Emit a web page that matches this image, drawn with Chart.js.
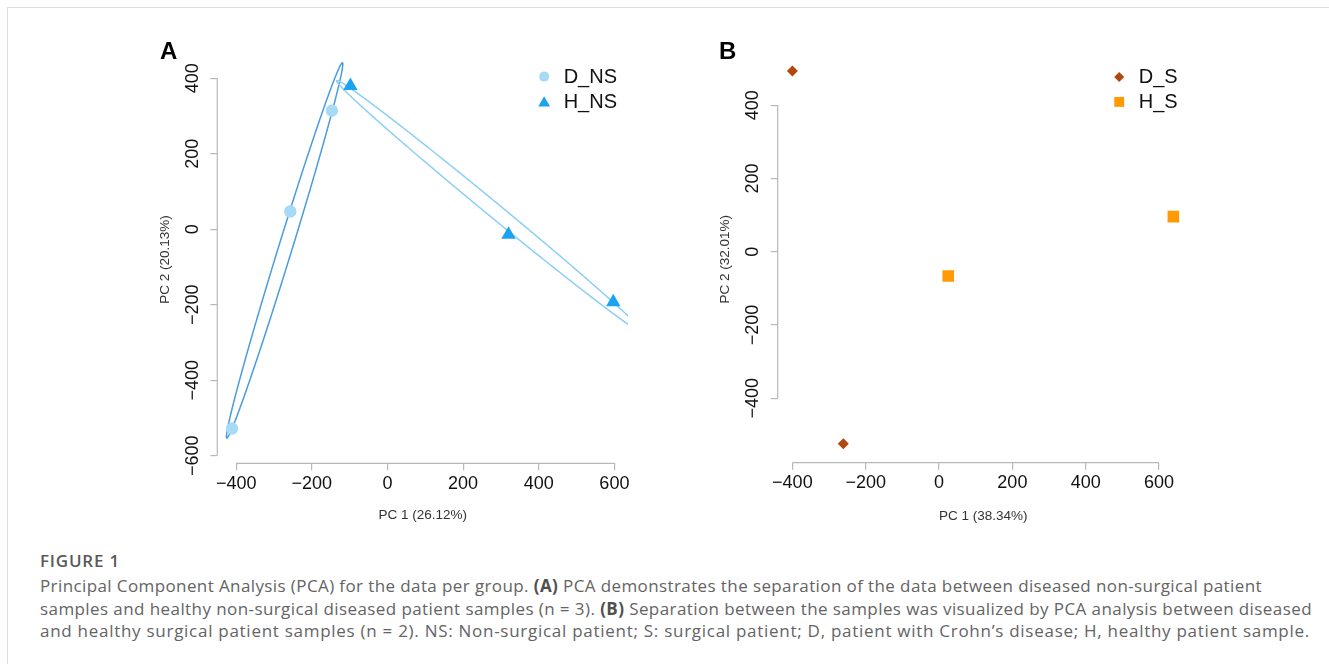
<!DOCTYPE html>
<html>
<head>
<meta charset="utf-8">
<script src="https://cdn.jsdelivr.net/npm/chart.js@4.4.1/dist/chart.umd.min.js"></script>
<style>
  body { margin: 0; background: #fff; width: 1329px; height: 664px; overflow: hidden; position: relative; }
  #frame { position: absolute; left: 7px; top: 7px; right: 0; bottom: 0; border-top: 1px solid #dcdcdc; border-left: 1px solid #dcdcdc; }
  .panel { position: absolute; top: 20px; width: 520px; height: 520px; }
  #boxA { left: 140px; }
  #boxB { left: 700px; }
  .tag { position: absolute; font: bold 24px "Liberation Sans", Arial, sans-serif; line-height: 24px; color: #000; }
  .cap { position: absolute; left: 40px; display: inline-block; white-space: nowrap; font-family: "Open Sans", sans-serif; font-size: 17px; line-height: 22.5px; color: #646464; }
  .cap b { font-weight: 700; color: #4f4f4f; }
  .fig { font-weight: 600; color: #5a5a5a; }
</style>
</head>
<body>
<div id="frame"></div>
<div class="panel" id="boxA"><canvas id="pcaA" width="520" height="520"></canvas></div>
<div class="panel" id="boxB"><canvas id="pcaB" width="520" height="520"></canvas></div>
<div class="tag" style="left:160px;top:39px">A</div>
<div class="tag" style="left:719px;top:39px">B</div>

<div class="cap fig" style="top:550px" data-w="80">FIGURE 1</div>
<div class="cap" style="top:575px" data-w="1222">Principal Component Analysis (PCA) for the data per group. <b>(A)</b> PCA demonstrates the separation of the data between diseased non-surgical patient</div>
<div class="cap" style="top:597.5px" data-w="1272">samples and healthy non-surgical diseased patient samples (n = 3). <b>(B)</b> Separation between the samples was visualized by PCA analysis between diseased</div>
<div class="cap" style="top:620px" data-w="1270">and healthy surgical patient samples (n = 2). NS: Non-surgical patient; S: surgical patient; D, patient with Crohn’s disease; H, healthy patient sample.</div>

<script>
// Panel A: non-surgical samples
const ticksA_x = [-400, -200, 0, 200, 400, 600];
const ticksA_y = [-600, -400, -200, 0, 200, 400];
const dnsPC1 = [-411, -257, -147];
const dnsPC2 = [-528, 47, 314];
const hnsPC1 = [-98, 320, 597];
const hnsPC2 = [380, -14, -193];
// confidence ellipses: [centre PC1, centre PC2, semi-major, semi-minor, angle deg]
const dnsEllipse = [-272, -56, 520, 18, 72.9];
const hnsEllipse = [273, 58, 528, 19, -39.5];

// Panel B: surgical samples
const ticksB_x = [-400, -200, 0, 200, 400, 600];
const ticksB_y = [-400, -200, 0, 200, 400];
const dsPC1 = [-400, -261];
const dsPC2 = [494, -524];
const hsPC1 = [25, 639];
const hsPC2 = [-66, 96];

const AXIS_FONT = '"Liberation Sans", Arial, Helvetica, sans-serif';
const AXIS_GREY = '#b8b8b8';

function fmt(v) {
    return v < 0 ? '\u2212' + Math.abs(v) : String(v);
}

function toPoints(xs, ys) {
    return xs.map((x, i) => ({ x: x, y: ys[i] }));
}

// ellipse outlines, mapped through the chart scales and clipped to the plot region
const ellipsePlugin = {
    id: 'ellipses',
    beforeDatasetsDraw(chart, args, opts) {
        const { ctx, chartArea: a } = chart;
        const sx = chart.scales.x, sy = chart.scales.y;
        (opts.list || []).forEach(e => {
            const [cx, cy, ra, rb, deg] = e.params;
            const t = deg * Math.PI / 180;
            ctx.save();
            ctx.beginPath();
            ctx.rect(a.left, a.top, a.right - a.left, a.bottom - a.top);
            ctx.clip();
            ctx.beginPath();
            for (let i = 0; i <= 720; i++) {
                const u = i * Math.PI / 360;
                const px = cx + ra * Math.cos(u) * Math.cos(t) - rb * Math.sin(u) * Math.sin(t);
                const py = cy + ra * Math.cos(u) * Math.sin(t) + rb * Math.sin(u) * Math.cos(t);
                const X = sx.getPixelForValue(px), Y = sy.getPixelForValue(py);
                if (i === 0) ctx.moveTo(X, Y); else ctx.lineTo(X, Y);
            }
            ctx.strokeStyle = e.color;
            ctx.lineWidth = 1.5;
            ctx.stroke();
            ctx.restore();
        });
    }
};

// R-style axis lines: only from first to last tick
const axisLines = {
    id: 'axisLines',
    afterDraw(chart) {
        const { ctx, chartArea: a } = chart;
        const sx = chart.scales.x, sy = chart.scales.y;
        ctx.save();
        ctx.strokeStyle = AXIS_GREY;
        ctx.lineWidth = 1.2;
        ctx.beginPath();
        ctx.moveTo(sx.getPixelForValue(sx.ticks[0].value), a.bottom);
        ctx.lineTo(sx.getPixelForValue(sx.ticks[sx.ticks.length - 1].value), a.bottom);
        ctx.moveTo(a.left, sy.getPixelForValue(sy.ticks[0].value));
        ctx.lineTo(a.left, sy.getPixelForValue(sy.ticks[sy.ticks.length - 1].value));
        ctx.stroke();
        ctx.restore();
    }
};

// top-right legend without a box
const rLegend = {
    id: 'rLegend',
    afterDraw(chart) {
        const { ctx, chartArea: a } = chart;
        const sets = chart.data.datasets;
        ctx.save();
        ctx.font = '20px ' + AXIS_FONT;
        const maxW = Math.max(...sets.map(d => ctx.measureText(d.label).width));
        const tx = a.right - 11 - maxW;
        sets.forEach((d, i) => {
            const yy = a.top + 21 + i * 25;
            ctx.fillStyle = d.backgroundColor;
            Chart.helpers.drawPoint(ctx, {
                pointStyle: d.pointStyle, radius: d.legendRadius, rotation: 0, borderWidth: 0
            }, tx - 19.5, yy + (d.pointStyle === 'triangle' ? 1.5 : 0));
            ctx.fillStyle = '#111';
            ctx.textBaseline = 'middle';
            ctx.textAlign = 'left';
            ctx.fillText(d.label, tx, yy + 1);
        });
        ctx.restore();
    }
};

function makePanel(id, p) {
    const setTicks = list => s => { s.ticks = list.map(v => ({ value: v })); };
    return new Chart(document.getElementById(id), {
        type: 'scatter',
        data: { datasets: p.datasets },
        options: {
            responsive: false,
            animation: false,
            events: [],
            layout: { padding: { left: 0, right: p.padRight, top: p.padTop, bottom: 0 } },
            plugins: {
                legend: { display: false },
                tooltip: { enabled: false },
                ellipses: { list: p.ellipses || [] }
            },
            scales: {
                x: {
                    type: 'linear',
                    min: p.xMin, max: p.xMax,
                    afterBuildTicks: setTicks(p.xTicks),
                    afterFit: s => { s.height = p.xAxisH; },
                    border: { display: false },
                    grid: { drawOnChartArea: false, drawTicks: true, tickLength: 7, color: AXIS_GREY, lineWidth: 1.2 },
                    ticks: {
                        font: { family: AXIS_FONT, size: 18 }, color: '#111',
                        padding: 3, maxRotation: 0, autoSkip: false,
                        callback: v => fmt(v)
                    },
                    title: {
                        display: true, text: p.xTitle, color: '#333',
                        font: { family: AXIS_FONT, size: 13.5 },
                        padding: { top: 0, bottom: p.xTitlePad }
                    }
                },
                y: {
                    type: 'linear',
                    min: p.yMin, max: p.yMax,
                    afterBuildTicks: setTicks(p.yTicks),
                    afterFit: s => { s.width = p.yAxisW; },
                    border: { display: false },
                    grid: { drawOnChartArea: false, drawTicks: true, tickLength: 7, color: AXIS_GREY, lineWidth: 1.2 },
                    ticks: {
                        font: { family: AXIS_FONT, size: 18 }, color: '#111',
                        minRotation: 90, maxRotation: 90, crossAlign: 'center',
                        padding: p.yTickPad, autoSkip: false,
                        callback: v => fmt(v)
                    },
                    title: {
                        display: true, text: p.yTitle, color: '#333',
                        font: { family: AXIS_FONT, size: 13.5 },
                        padding: { top: 17, bottom: 0 }
                    }
                }
            }
        },
        plugins: [ellipsePlugin, axisLines, rLegend]
    });
}

makePanel('pcaA', {
    xMin: -450, xMax: 636, yMin: -620, yMax: 460,
    xTicks: ticksA_x, yTicks: ticksA_y,
    padRight: 32, padTop: 35.6, xAxisH: 76.7, yAxisW: 77.3,
    xTitlePad: 17, yTickPad: -3,
    xTitle: 'PC 1 (26.12%)', yTitle: 'PC 2 (20.13%)',
    ellipses: [
        { params: dnsEllipse, color: '#4a9be0' },
        { params: hnsEllipse, color: '#8ccff4' }
    ],
    datasets: [
        {
            label: 'D_NS', data: toPoints(dnsPC1, dnsPC2),
            pointStyle: 'circle', pointRadius: 6.2, legendRadius: 5,
            backgroundColor: '#a6daf7', borderWidth: 0
        },
        {
            label: 'H_NS', data: toPoints(hnsPC1, hnsPC2),
            pointStyle: 'triangle', pointRadius: 8.3, legendRadius: 6.8,
            backgroundColor: '#1aa3ef', borderWidth: 0
        }
    ]
});

makePanel('pcaB', {
    xMin: -440, xMax: 680.6, yMin: -575.8, yMax: 535,
    xTicks: ticksB_x, yTicks: ticksB_y,
    padRight: 31.4, padTop: 35.9, xAxisH: 77.3, yAxisW: 77.7,
    xTitlePad: 16, yTickPad: -2.5,
    xTitle: 'PC 1 (38.34%)', yTitle: 'PC 2 (32.01%)',
    datasets: [
        {
            label: 'D_S', data: toPoints(dsPC1, dsPC2),
            pointStyle: 'rectRot', pointRadius: 5.5, legendRadius: 5,
            backgroundColor: '#b2470b', borderWidth: 0
        },
        {
            label: 'H_S', data: toPoints(hsPC1, hsPC2),
            pointStyle: 'rect', pointRadius: 8.2, legendRadius: 7,
            backgroundColor: '#ff9a05', borderWidth: 0
        }
    ]
});

// stretch caption lines to the measured widths
document.querySelectorAll('[data-w]').forEach(el => {
    const target = +el.dataset.w;
    const w = el.getBoundingClientRect().width;
    const n = el.textContent.length;
    el.style.letterSpacing = ((target - w) / n).toFixed(3) + 'px';
});
</script>
</body>
</html>
